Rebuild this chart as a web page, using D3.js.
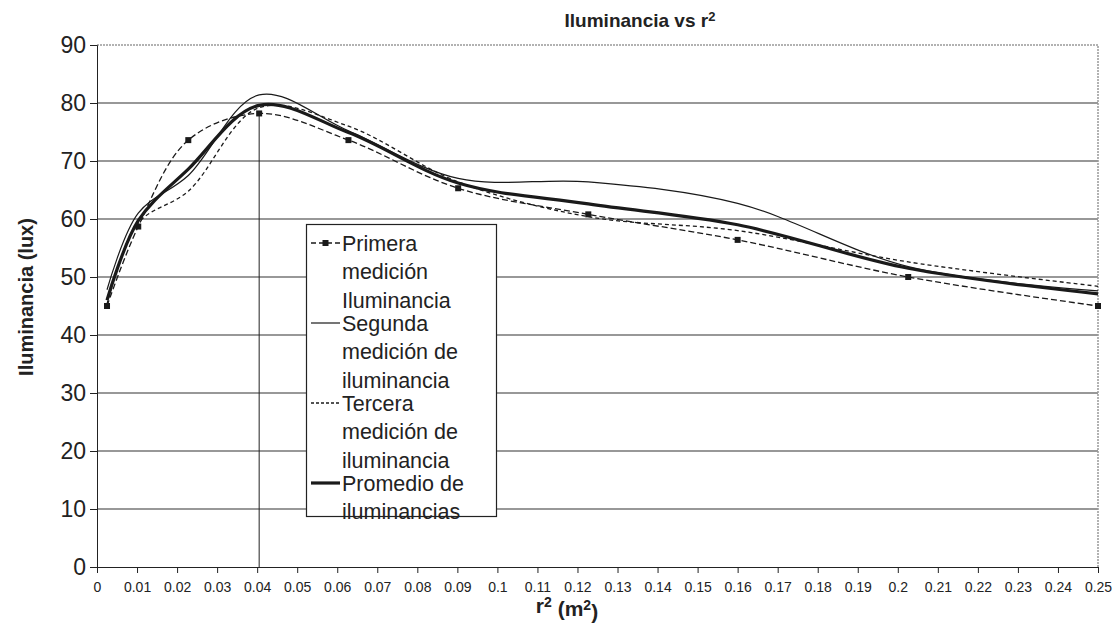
<!DOCTYPE html>
<html>
<head>
<meta charset="utf-8">
<script src="https://cdn.jsdelivr.net/npm/d3@7"></script>
<style>
  body { margin: 0; background: #fff; }
  text { font-family: "Liberation Sans", Arial, sans-serif; fill: #222; }
</style>
</head>
<body>
<div id="chart"></div>
<script>
// r^2 values (m^2)
let r2 = [0.0025, 0.0103, 0.0228, 0.0405, 0.0628, 0.0902, 0.1227, 0.16, 0.2026, 0.25];
let primera = [45, 58.7, 73.6, 78.2, 73.6, 65.3, 60.8, 56.4, 50.0, 45.0];
let segunda = [47.8, 61, 67.5, 81.4, 75.2, 67.0, 66.4, 62.7, 51.8, 47.6];
let tercera = [45.3, 59.3, 64.8, 79.2, 76.0, 66.4, 60.4, 58.0, 52.6, 48.4];
let promedio = [46.0, 59.7, 68.6, 79.6, 74.9, 66.2, 62.6, 59.0, 51.5, 47.1];
let yTicks = [0, 10, 20, 30, 40, 50, 60, 70, 80, 90];
let xTicks = d3.range(0, 26).map(i => i / 100);
let legendLabels = [
    ["Primera", "medición", "Iluminancia"],
    ["Segunda", "medición de", "iluminancia"],
    ["Tercera", "medición de", "iluminancia"],
    ["Promedio de", "iluminancias"]
];

const W = 1114, H = 624;
const svg = d3.select("#chart").append("svg").attr("width", W).attr("height", H);

const x = d3.scaleLinear().domain([0, 0.25]).range([97, 1098]);
const y = d3.scaleLinear().domain([0, 90]).range([567, 45]);

// gridlines
svg.append("g").selectAll("line")
    .data(yTicks.filter(d => d > 0 && d < 90))
    .join("line")
    .attr("x1", x(0)).attr("x2", x(0.25))
    .attr("y1", d => y(d)).attr("y2", d => y(d))
    .attr("stroke", "#333").attr("stroke-width", 1.2);

// plot border top/right (dotted grey)
svg.append("path")
    .attr("d", `M${x(0)},${y(90)}H${x(0.25)}V${y(0)}`)
    .attr("fill", "none").attr("stroke", "#999").attr("stroke-width", 1.5)
    .attr("stroke-dasharray", "2,1");

// axes
const yAxis = d3.axisLeft(y).tickValues(yTicks).tickSize(7).tickPadding(4).tickFormat(d3.format("d"));
const gy = svg.append("g").attr("transform", `translate(${x(0)},0)`).call(yAxis);
gy.selectAll("text").style("font-size", "23px").attr("fill", "#222");
gy.selectAll("line, path").attr("stroke", "#222");

const xAxis = d3.axisBottom(x).tickValues(xTicks).tickSize(6).tickPadding(9)
    .tickFormat(d => d3.format("~g")(+d.toFixed(2)));
const gx = svg.append("g").attr("transform", `translate(0,${y(0)})`).call(xAxis);
gx.selectAll("text").style("font-size", "14px").attr("fill", "#222");
gx.selectAll("line, path").attr("stroke", "#222");

// drop line at the 4th point
svg.append("line")
    .attr("x1", x(r2[3])).attr("x2", x(r2[3]))
    .attr("y1", y(0)).attr("y2", y(primera[3]))
    .attr("stroke", "#222").attr("stroke-width", 1);

const line = d3.line()
    .x((d, i) => x(r2[i]))
    .y(d => y(d))
    .curve(d3.curveCatmullRom.alpha(0.5));

const series = [
    { values: segunda, width: 1.2, dash: null },
    { values: tercera, width: 1.3, dash: "4,3" },
    { values: primera, width: 1.3, dash: "6,3" },
    { values: promedio, width: 3.2, dash: null }
];

series.forEach(s => {
    svg.append("path")
        .attr("d", line(s.values))
        .attr("fill", "none")
        .attr("stroke", "#1a1a1a")
        .attr("stroke-width", s.width)
        .attr("stroke-dasharray", s.dash);
});

// markers for primera
svg.append("g").selectAll("rect")
    .data(primera)
    .join("rect")
    .attr("x", (d, i) => x(r2[i]) - 3)
    .attr("y", d => y(d) - 3)
    .attr("width", 6).attr("height", 6)
    .attr("fill", "#1a1a1a");

// legend
const lg = svg.append("g");
lg.append("rect")
    .attr("x", 306.5).attr("y", 224.5).attr("width", 190).attr("height", 292)
    .attr("fill", "#fff").attr("stroke", "#222").attr("stroke-width", 1.2);

const legendStyles = [
    { width: 1.3, dash: "5,3", marker: true },
    { width: 1.2, dash: null, marker: false },
    { width: 1.3, dash: "3,2", marker: false },
    { width: 3.2, dash: null, marker: false }
];

legendLabels.forEach((lines, i) => {
    let cy = 243 + 80 * i;
    let st = legendStyles[i];
    lg.append("line")
        .attr("x1", 311).attr("x2", 340)
        .attr("y1", cy).attr("y2", cy)
        .attr("stroke", "#1a1a1a").attr("stroke-width", st.width)
        .attr("stroke-dasharray", st.dash);
    if (st.marker) {
        lg.append("rect").attr("x", 322.5).attr("y", cy - 3)
            .attr("width", 6).attr("height", 6).attr("fill", "#1a1a1a");
    }
    lines.forEach((t, j) => {
        lg.append("text")
            .attr("x", 342).attr("y", cy + j * 28.5)
            .attr("dy", "0.36em")
            .style("font-size", "21.5px")
            .text(t);
    });
});

// title
const title = svg.append("text")
    .attr("x", 640).attr("y", 27)
    .attr("text-anchor", "middle")
    .style("font-size", "19px").style("font-weight", "bold");
title.append("tspan").text("Iluminancia vs r");
title.append("tspan").attr("dy", "-0.45em").style("font-size", "13px").text("2");

// y title
svg.append("text")
    .attr("transform", "translate(33,297) rotate(-90)")
    .attr("text-anchor", "middle")
    .style("font-size", "20px").style("font-weight", "bold")
    .text("Iluminancia (lux)");

// x title
const xt = svg.append("text")
    .attr("x", 567).attr("y", 613)
    .attr("text-anchor", "middle")
    .style("font-size", "21px").style("font-weight", "bold");
xt.append("tspan").text("r");
xt.append("tspan").attr("dy", "-0.45em").style("font-size", "14px").text("2");
xt.append("tspan").attr("dy", "0.45em").text(" (m");
xt.append("tspan").attr("dy", "-0.45em").style("font-size", "14px").text("2");
xt.append("tspan").attr("dy", "0.45em").text(")");
</script>
</body>
</html>
